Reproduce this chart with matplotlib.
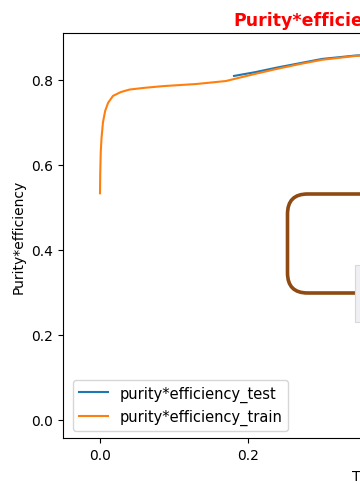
import matplotlib
matplotlib.use("Agg")
import matplotlib.pyplot as plt
from matplotlib.patches import FancyBboxPatch, Rectangle

# Data (threshold vs purity*efficiency)
train_x = [0.0, 0.0003, 0.001, 0.002, 0.004, 0.007, 0.011, 0.0175, 0.028, 0.04, 0.06,
           0.085, 0.13, 0.17, 0.184, 0.21, 0.24, 0.27, 0.30, 0.345, 0.40, 0.45,
           0.50, 0.55, 0.60, 0.70, 0.80, 0.90, 0.95, 1.0]
train_y = [0.533, 0.58, 0.63, 0.662, 0.70, 0.727, 0.746, 0.762, 0.771, 0.777, 0.781,
           0.785, 0.79, 0.797, 0.803, 0.814, 0.826, 0.837, 0.847, 0.856, 0.862, 0.866,
           0.864, 0.856, 0.84, 0.80, 0.72, 0.55, 0.40, 0.0]
test_x = [0.181, 0.21, 0.24, 0.27, 0.30, 0.345, 0.40, 0.45, 0.50, 0.55, 0.60,
          0.70, 0.80, 0.90, 0.95, 1.0]
test_y = [0.809, 0.818, 0.829, 0.839, 0.849, 0.857, 0.862, 0.865, 0.862, 0.853,
          0.837, 0.79, 0.70, 0.52, 0.37, 0.0]
x_ticks = [0.0, 0.2]
y_ticks = [0.0, 0.2, 0.4, 0.6, 0.8]

title_text = "Purity*efficiency"
xlabel_text = "Threshold"
ylabel_text = "Purity*efficiency"

fig = plt.figure(figsize=(3.6, 4.85), dpi=100)
ax = fig.add_axes([0.175, 0.0942, 2.262, 0.8357])
ax.plot(test_x, test_y, color="#1f77b4", label="purity*efficiency_test")
ax.plot(train_x, train_y, color="#ff7f0e", label="purity*efficiency_train")
ax.set_xlim(-0.05, 1.05)
ax.set_ylim(-0.0435, 0.91)
ax.set_xticks(x_ticks)
ax.set_yticks(y_ticks)
ax.set_ylabel(ylabel_text)
ax.legend(loc="lower left", bbox_to_anchor=(0.003, 0.0), bbox_transform=ax.transAxes,
          fontsize=10.5)

# Title and x label (the visible part of a wider figure)
fig.text(233 / 360, 1 - 26 / 485, title_text, color="red", fontweight="bold",
         fontsize=12.5, ha="left", va="baseline")
fig.text(352 / 360, 1 - 481 / 485, xlabel_text, fontsize=10, ha="left", va="baseline")

# Brown rounded frame overlay
box = FancyBboxPatch((2.875, 1.91), 2.0, 0.99,
                     boxstyle="round,pad=0,rounding_size=0.2",
                     transform=fig.dpi_scale_trans, fill=False,
                     edgecolor="#8E4A12", linewidth=2.6, zorder=10)
fig.add_artist(box)

# Light grey panel at the right edge
panel = Rectangle((3.55, 1.62), 0.1, 0.57, transform=fig.dpi_scale_trans,
                  facecolor="#efeff4", edgecolor="#d8d8dc", linewidth=0.8, zorder=11)
fig.add_artist(panel)

fig.savefig("out.png", dpi=100)
